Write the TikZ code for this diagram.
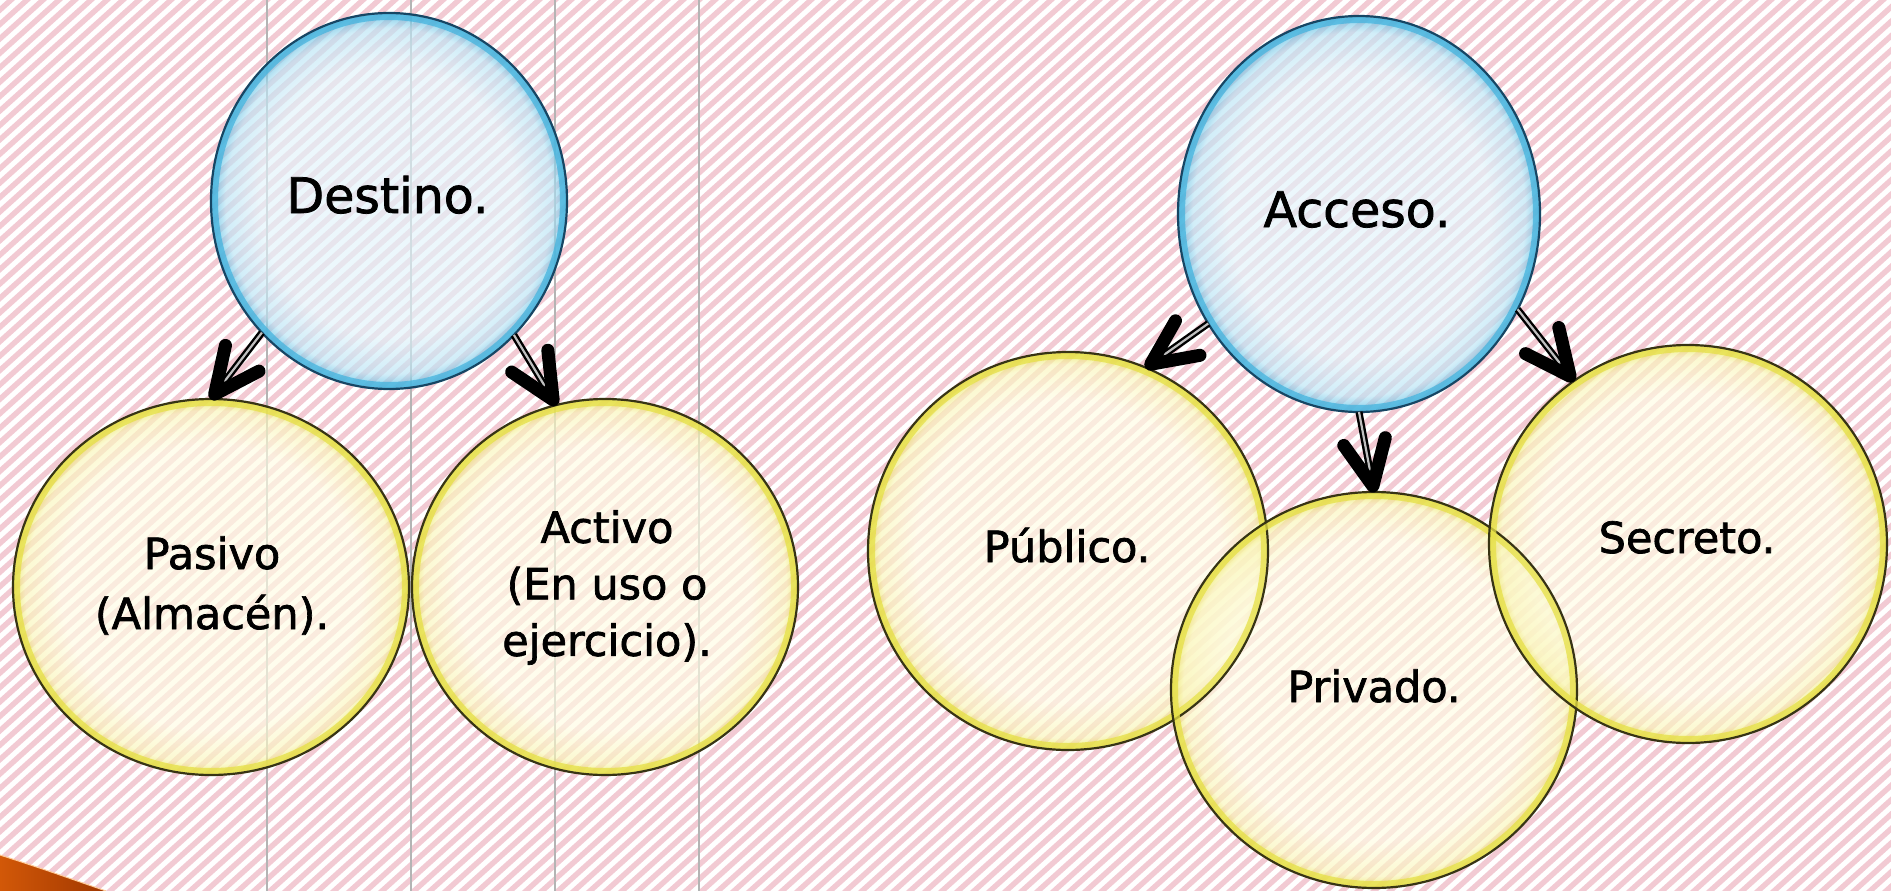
\documentclass[tikz,border=0pt]{standalone}
\usepackage{fontspec}
\setmainfont{DejaVu Sans}[FakeBold=1.6]
\usetikzlibrary{shapes.geometric,calc}
\definecolor{stripeP}{RGB}{242,202,211}
\definecolor{vlineC}{RGB}{180,180,180}
\definecolor{bIn}{RGB}{226,244,251}
\definecolor{bMid}{RGB}{185,228,245}
\definecolor{bEdge}{RGB}{70,180,222}
\definecolor{bLine}{RGB}{22,70,100}
\definecolor{yIn}{RGB}{255,253,228}
\definecolor{yMid}{RGB}{250,246,185}
\definecolor{yEdge}{RGB}{230,224,70}
\definecolor{yLine}{RGB}{55,52,20}
\definecolor{orA}{RGB}{210,88,8}
\definecolor{orB}{RGB}{160,55,0}
\pgfdeclareradialshading{bluebub}{\pgfpoint{0bp}{0bp}}{color(0bp)=(bIn); color(18bp)=(bIn); color(23bp)=(bMid); color(25bp)=(bEdge); color(50bp)=(bEdge)}
\pgfdeclareradialshading{yelbub}{\pgfpoint{0bp}{0bp}}{color(0bp)=(yIn); color(19bp)=(yIn); color(23.5bp)=(yMid); color(25bp)=(yEdge); color(50bp)=(yEdge)}
\tikzset{
  bub/.style={ellipse, inner sep=0pt, outer sep=0pt, shade, fill opacity=0.65, draw=none},
  bluecirc/.style={bub, shading=bluebub},
  yelcirc/.style={bub, shading=yelbub},
  stripe/.style={draw=stripeP, line width=5.4pt},
  vline/.style={draw=vlineC, line width=1.4pt},
  lbl/.style={inner sep=0pt, outer sep=0pt, text=black, align=center},
  bigfont/.style={font=\fontsize{49}{58}\selectfont},
  smallfont/.style={font=\fontsize{43}{57}\selectfont},
  shaft/.style={draw=black, line width=2.4pt, double=black!25, double distance=2.2pt},
  arrowhead/.style={draw=black, line width=13pt, line cap=round, line join=round},
}
\newcommand\bigarrow[2]{%
  \coordinate (ta) at (#1);
  \coordinate (tb) at ($(#2)!6pt!(#1)$);
  \draw[shaft] (ta) -- ($(tb)!10pt!(ta)$);
  \draw[arrowhead] ($(tb)!50pt!25:(ta)$) -- (tb) -- ($(tb)!50pt!-25:(ta)$);
}
\begin{document}
\begin{tikzpicture}[x=1pt,y=-1pt]
\useasboundingbox (0,0) rectangle (1891,891);
\fill[white] (0,0) rectangle (1891,891);
% striped background
\begin{scope}
  \clip (0,0) rectangle (1891,891);
  \foreach \c in {-1100,-1084,...,1900} {
    \draw[stripe] (\c,900) -- ++(1010,-910);
  }
\end{scope}
% vertical guide lines
\foreach \x in {267,411,555,699} { \draw[vline] (\x,0) -- (\x,891); }
% orange corner
\shade[left color=orA, right color=orB] (0,855) .. controls (40,868) .. (106,891) -- (0,891) -- cycle;
\draw[orange!40!white, line width=1pt] (0,855) .. controls (40,868) .. (106,891);
% bubbles
\node[bluecirc, minimum width=356, minimum height=376] (Destino) at (389,201) {};
\node[bluecirc, minimum width=362, minimum height=396] (Acceso) at (1359,214) {};
\node[yelcirc, minimum width=396, minimum height=376] (Pasivo) at (211,587) {};
\node[yelcirc, minimum width=386, minimum height=376] (Activo) at (605,587) {};
\node[yelcirc, minimum width=400, minimum height=398] (Publico) at (1068,551) {};
\node[yelcirc, minimum width=406, minimum height=396] (Privado) at (1374,690) {};
\node[yelcirc, minimum width=398, minimum height=398] (Secreto) at (1688,544) {};
% rims and outlines
\foreach \n/\rx/\ry/\ring/\ln in {Destino/178/188/bEdge/bLine, Acceso/181/198/bEdge/bLine,
  Pasivo/198/188/yEdge/yLine, Activo/193/188/yEdge/yLine, Publico/200/199/yEdge/yLine,
  Privado/203/198/yEdge/yLine, Secreto/199/199/yEdge/yLine} {
  \draw[\ring, line width=6pt, opacity=0.75] (\n.center) ellipse [x radius=\rx-4, y radius=\ry-4];
  \draw[\ln, line width=2.2pt] (\n.center) ellipse [x radius=\rx, y radius=\ry];
}
% arrows
\bigarrow{Destino.226}{Pasivo.90}
\bigarrow{Destino.313}{Activo.105}
\bigarrow{Acceso.216}{Publico.67}
\bigarrow{Acceso.270}{Privado.90}
\bigarrow{Acceso.329}{Secreto.125}
% labels
\node[lbl, bigfont, anchor=base] (tDestino) at (387.5,213) {Destino.};
\node[lbl, bigfont, anchor=base] (tAcceso) at (1357,227) {Acceso.};
\node[lbl, font=\fontsize{43}{60}\selectfont] (tPasivo) at (212,585.5) {Pasivo\\(Almacén).};
\node[lbl, font=\fontsize{43}{56.5}\selectfont] (tActivo) at (607,587.5) {Activo\\(En uso o\\ejercicio).};
\node[lbl, smallfont, anchor=base] (tPublico) at (1067,562) {Público.};
\node[lbl, smallfont, anchor=base] (tPrivado) at (1374,702) {Privado.};
\node[lbl, smallfont, anchor=base] (tSecreto) at (1687,553) {Secreto.};
\end{tikzpicture}
\end{document}
